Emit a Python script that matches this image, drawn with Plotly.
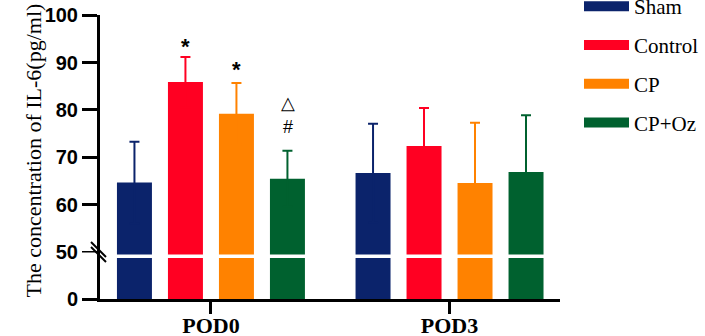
import plotly.graph_objects as go

groups = ["POD0", "POD3"]
series_names = ["Sham", "Control", "CP", "CP+Oz"]
colors = ["#0B236B", "#FF0022", "#FF8200", "#00612F"]
sham = [64.7, 66.7]
sham_err = [8.6, 10.4]
control = [85.9, 72.4]
control_err = [5.3, 8.0]
cp = [79.2, 64.6]
cp_err = [6.5, 12.7]
cpoz = [65.5, 66.9]
cpoz_err = [5.9, 12.0]
y_ticks = [50, 60, 70, 80, 90, 100]
y_title = "The concentration of IL-6(pg/ml)"
marks = ["*", "*", "△", "#"]
mark_pos = [(-0.107, 93.3), (0.107, 88.5), (0.321, 81.4), (0.321, 76.4)]

values = [sham, control, cp, cpoz]
errors = [sham_err, control_err, cp_err, cpoz_err]

W, H = 705, 336
L, R, T, B = 100, 145, 15, 37
PW, PH = W - L - R, H - T - B

def py(p):  # pixel y -> paper
    return (299 - p) / PH

def px(p):
    return (p - 100) / PW

top_dom = [py(254.5), 1.0]
bot_dom = [0.0, py(258)]

fig = go.Figure()
for name, col, v, e in zip(series_names, colors, values, errors):
    fig.add_trace(go.Bar(
        x=groups, y=v, name=name, marker_color=col, marker_line_width=0,
        xaxis="x2", yaxis="y2", showlegend=False,
        error_y=dict(type="data", array=e, symmetric=True,
                     color=col, thickness=2, width=5),
    ))
    fig.add_trace(go.Bar(
        x=groups, y=v, name=name, marker_color=col, marker_line_width=0,
        xaxis="x", yaxis="y", showlegend=False,
    ))
    fig.add_trace(go.Scatter(
        x=[None], y=[None], mode="lines", name=name,
        line=dict(color=col, width=13), legendgroup=name,
        xaxis="x2", yaxis="y2",
    ))

serif = "Liberation Serif, Times New Roman, serif"
sans = "Liberation Sans, Arial, sans-serif"

xr = [-0.465, 1.463]
fig.update_layout(
    width=W, height=H,
    margin=dict(l=L, r=R, t=T, b=B, autoexpand=False),
    plot_bgcolor="white", paper_bgcolor="white",
    barmode="group", bargap=0.145, bargroupgap=0.314,
    xaxis=dict(domain=[0, 1], anchor="y", range=xr, showline=True, linecolor="black",
               linewidth=3, ticks="outside", ticklen=12, tickwidth=3, tickcolor="black",
               tickfont=dict(family=serif, size=22, color="black", weight="bold"),
               ticklabelstandoff=-7,
               showgrid=False, zeroline=False, automargin=False, ticklabeloverflow="allow"),
    xaxis2=dict(domain=[0, 1], anchor="y2", matches="x", range=xr, visible=False),
    yaxis=dict(domain=bot_dom, anchor="x", range=[0, 50], showline=True, linecolor="black",
               linewidth=3, ticks="outside", ticklen=15, tickwidth=3, tickcolor="black",
               tickvals=[0], tickfont=dict(family=sans, size=20, color="black", weight="bold"),
               showgrid=False, zeroline=False, automargin=False, ticklabeloverflow="allow"),
    yaxis2=dict(domain=top_dom, anchor="x2", range=[49.5, 100.05], showline=True,
                linecolor="black", linewidth=3, ticks="outside", ticklen=15, tickwidth=3,
                tickcolor="black", tickvals=y_ticks,
                tickfont=dict(family=sans, size=20, color="black", weight="bold"),
                showgrid=False, zeroline=False, automargin=False, ticklabeloverflow="allow"),
    legend=dict(x=px(579), xanchor="left", y=py(-14), yanchor="top",
                font=dict(family=serif, size=21, color="black"),
                tracegroupgap=8.5, itemwidth=45, bgcolor="rgba(0,0,0,0)"),
    showlegend=True,
)

shapes = []
shapes.append(dict(type="line", xref="paper", yref="paper", x0=px(98.5), x1=px(98.5),
                   y0=bot_dom[1], y1=top_dom[0], line=dict(color="black", width=3)))
shapes.append(dict(type="rect", xref="paper", yref="paper", x0=px(82), x1=px(97),
                   y0=py(256.5), y1=py(252.5), fillcolor="white", line=dict(width=0),
                   layer="above"))
for dy in (0, 5):
    shapes.append(dict(type="line", xref="paper", yref="paper",
                       x0=px(91), y0=py(242 + dy), x1=px(106), y1=py(257 + dy),
                       line=dict(color="black", width=2), layer="above"))
fig.update_layout(shapes=shapes)

ann = [dict(text=y_title, x=px(18), y=py(151), xref="paper", yref="paper", textangle=-90,
            showarrow=False, font=dict(family=serif, size=22, color="black"))]
for m, (mx, my) in zip(marks, mark_pos):
    if m == "*":
        f = dict(family=sans, size=22, color="black", weight="bold")
    else:
        f = dict(family=sans, size=18, color="black")
    ann.append(dict(text=m, x=mx, y=my, xref="x2", yref="y2", showarrow=False, font=f))
fig.update_layout(annotations=ann)

fig.write_html("out.html", config={"displayModeBar": False},
               post_script="document.body.style.margin='0';")
